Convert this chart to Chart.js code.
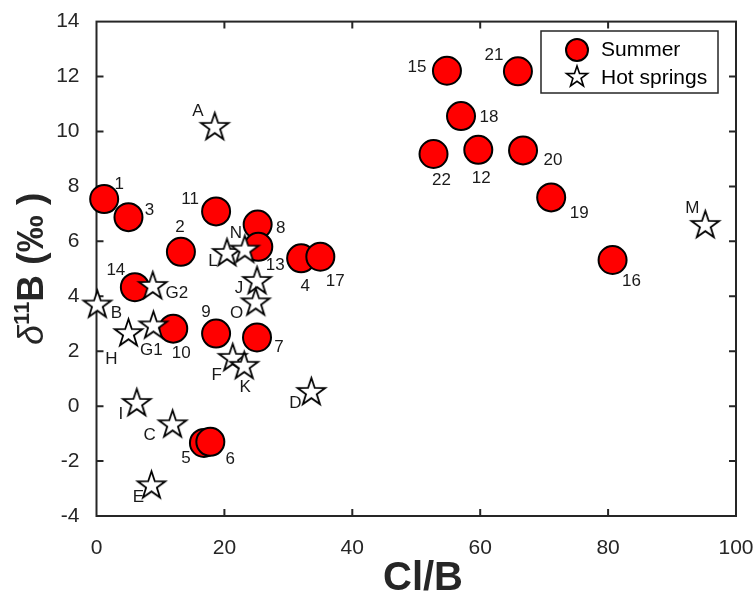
<!DOCTYPE html>
<html lang="en">
<head>
    <meta charset="utf-8">
    <title>d11B vs Cl/B</title>
    <script src="https://cdn.jsdelivr.net/npm/chart.js@4.4.1/dist/chart.umd.min.js"></script>
    <style>
        html, body { margin: 0; padding: 0; background: #fff; }
        canvas { display: block; }
    </style>
</head>
<body>
<canvas id="chart" width="756" height="599" style="width:756px;height:599px"></canvas>
<script>
// summer samples (circles), numbered 1..22
const summerIds = ['1','2','3','4','5','6','7','8','9','10','11','12','13','14','15','16','17','18','19','20','21','22'];
const summerClB = [1.2, 13.2, 5.0, 32.0, 16.8, 17.8, 25.1, 25.2, 18.7, 12.0, 18.7, 59.7, 25.3, 6.0, 54.8, 80.7, 35.0, 57.0, 71.1, 66.7, 65.9, 52.7];
const summerD11B = [7.54, 5.62, 6.88, 5.38, -1.34, -1.30, 2.50, 6.61, 2.64, 2.82, 7.09, 9.33, 5.80, 4.33, 12.21, 5.32, 5.44, 10.56, 7.60, 9.31, 12.19, 9.18];

// hot springs (stars)
const springIds = ['A','B','C','D','E','F','G1','G2','H','I','J','K','L','M','N','O'];
const springClB = [18.5, 0.13, 11.9, 33.6, 8.6, 21.3, 8.9, 8.8, 5.0, 6.3, 25.1, 23.1, 20.4, 95.2, 23.2, 24.9];
const springD11B = [10.15, 3.68, -0.68, 0.50, -2.90, 1.74, 2.92, 4.36, 2.64, 0.10, 4.54, 1.45, 5.56, 6.58, 5.68, 3.76];

const xTicks = [0, 20, 40, 60, 80, 100];
const yTicks = [-4, -2, 0, 2, 4, 6, 8, 10, 12, 14];

// where each id label sits relative to its marker (px)
const summerLabelOffsets = [[15,-15],[-1,-24],[21,-7],[4,28],[-18,15],[20,17],[22,10],[23,4],[-10,-21],[8,25],[-26,-12],[3,28],[17,18],[-19,-17],[-30,-3],[19,21],[15,25],[28,1],[28,16],[30,10],[-24,-16],[8,26]];
const springLabelOffsets = [[-17,-16],[19,8],[-23,11],[-16,11],[-13,12],[-16,17],[-2,24],[24,7],[-17,26],[-16,11],[-18,7],[1,21],[-14,8],[-13,-17],[-9,-17],[-19,10]];

const FONT = 'Arial, "Liberation Sans", Helvetica, sans-serif';
const INK = '#262626';

function makeStar(R, lw) {
    let s = Math.ceil(2 * R + 2 * lw + 4);
    let c = document.createElement('canvas');
    c.width = s; c.height = s;
    let g = c.getContext('2d');
    g.beginPath();
    for (let i = 0; i < 10; i++) {
        let a = -Math.PI / 2 + i * Math.PI / 5;
        let r = i % 2 ? R * 0.39 : R;
        let px = s / 2 + r * Math.cos(a), py = s / 2 + r * Math.sin(a);
        if (i === 0) g.moveTo(px, py); else g.lineTo(px, py);
    }
    g.closePath();
    g.fillStyle = '#fff';
    g.fill();
    g.lineWidth = lw;
    g.lineJoin = 'miter';
    g.strokeStyle = '#000';
    g.stroke();
    return c;
}

const bigStar = makeStar(14.5, 1.8);
const smallStar = makeStar(11, 1.6);

const toPoints = (xs, ys) => xs.map((x, i) => ({ x: x, y: ys[i] }));

// box with inward ticks on all four sides
const boxPlugin = {
    id: 'box',
    beforeDatasetsDraw(chart) {
        let ctx = chart.ctx;
        let a = chart.chartArea;
        let sx = chart.scales.x, sy = chart.scales.y;
        ctx.save();
        ctx.strokeStyle = INK;
        ctx.lineWidth = 2;
        ctx.strokeRect(a.left, a.top, a.right - a.left, a.bottom - a.top);
        ctx.beginPath();
        xTicks.slice(1, -1).forEach(v => {
            let px = sx.getPixelForValue(v);
            ctx.moveTo(px, a.bottom); ctx.lineTo(px, a.bottom - 7);
            ctx.moveTo(px, a.top); ctx.lineTo(px, a.top + 7);
        });
        yTicks.slice(1, -1).forEach(v => {
            let py = sy.getPixelForValue(v);
            ctx.moveTo(a.left, py); ctx.lineTo(a.left + 7, py);
            ctx.moveTo(a.right, py); ctx.lineTo(a.right - 7, py);
        });
        ctx.stroke();
        ctx.restore();
    }
};

// sample id next to every marker
const labelPlugin = {
    id: 'pointLabels',
    afterDatasetsDraw(chart) {
        let ctx = chart.ctx;
        ctx.save();
        ctx.font = '17px ' + FONT;
        ctx.fillStyle = '#1a1a1a';
        ctx.textAlign = 'center';
        ctx.textBaseline = 'middle';
        let sets = [[1, summerIds, summerLabelOffsets], [0, springIds, springLabelOffsets]];
        sets.forEach(([di, ids, offs]) => {
            chart.getDatasetMeta(di).data.forEach((pt, i) => {
                ctx.fillText(ids[i], pt.x + offs[i][0], pt.y + offs[i][1]);
            });
        });
        ctx.restore();
    }
};

// legend box in the top right corner, axis titles
const extrasPlugin = {
    id: 'extras',
    afterDraw(chart) {
        let ctx = chart.ctx;
        ctx.save();

        ctx.fillStyle = '#fff';
        ctx.fillRect(541, 31, 177, 62);
        ctx.strokeStyle = INK;
        ctx.lineWidth = 1.5;
        ctx.strokeRect(541, 31, 177, 62);

        ctx.beginPath();
        ctx.arc(577, 50, 11, 0, Math.PI * 2);
        ctx.fillStyle = '#ff0000';
        ctx.fill();
        ctx.lineWidth = 2;
        ctx.strokeStyle = '#000';
        ctx.stroke();
        ctx.drawImage(smallStar, 577 - smallStar.width / 2, 77 - smallStar.height / 2);

        ctx.fillStyle = '#000';
        ctx.font = '21px ' + FONT;
        ctx.textAlign = 'left';
        ctx.textBaseline = 'middle';
        ctx.fillText('Summer', 601, 50);
        ctx.fillText('Hot springs', 601, 78);

        let a = chart.chartArea;

        // x axis title
        ctx.fillStyle = INK;
        ctx.font = 'bold 40px ' + FONT;
        ctx.textAlign = 'center';
        ctx.textBaseline = 'middle';
        ctx.fillText('Cl/B', 423, 579);

        // y axis title
        let parts = [
            { t: 'δ', f: 'italic 36px ' + FONT, dy: 0 },
            { t: '11', f: 'bold 22px ' + FONT, dy: -14 },
            { t: 'B (‰ )', f: 'bold 37px ' + FONT, dy: 0 }
        ];
        let total = 0;
        parts.forEach(p => { ctx.font = p.f; p.w = ctx.measureText(p.t).width; total += p.w; });
        ctx.translate(43, (a.top + a.bottom) / 2);
        ctx.rotate(-Math.PI / 2);
        ctx.textAlign = 'left';
        ctx.textBaseline = 'alphabetic';
        let cx = -total / 2;
        parts.forEach(p => {
            ctx.font = p.f;
            ctx.fillText(p.t, cx, p.dy);
            cx += p.w;
        });
        ctx.restore();
    }
};

new Chart(document.getElementById('chart'), {
    type: 'scatter',
    data: {
        datasets: [
            {
                label: 'Hot springs',
                data: toPoints(springClB, springD11B),
                pointStyle: bigStar,
                order: 0,
                clip: false
            },
            {
                label: 'Summer',
                data: toPoints(summerClB, summerD11B),
                pointStyle: 'circle',
                pointRadius: 14,
                pointBackgroundColor: '#ff0000',
                pointBorderColor: '#000',
                pointBorderWidth: 2,
                order: 1,
                clip: false
            }
        ]
    },
    options: {
        responsive: false,
        devicePixelRatio: 1,
        animation: false,
        events: [],
        layout: { padding: { left: 0, right: 20, top: 15, bottom: 0 } },
        plugins: {
            legend: { display: false },
            tooltip: { enabled: false }
        },
        scales: {
            x: {
                type: 'linear',
                min: 0,
                max: 100,
                afterBuildTicks: s => { s.ticks = xTicks.map(v => ({ value: v })); },
                afterFit: s => { s.height = 83; s.paddingRight = 5; s.paddingLeft = 5; },
                grid: { display: false },
                border: { display: false },
                ticks: { font: { family: FONT, size: 21 }, color: INK, padding: 12, maxRotation: 0 }
            },
            y: {
                type: 'linear',
                min: -4,
                max: 14,
                afterBuildTicks: s => { s.ticks = yTicks.map(v => ({ value: v })); },
                afterFit: s => { s.width = 96.5; },
                grid: { display: false },
                border: { display: false },
                ticks: { font: { family: FONT, size: 21 }, color: INK, padding: 9 }
            }
        }
    },
    plugins: [boxPlugin, labelPlugin, extrasPlugin]
});
</script>
</body>
</html>
